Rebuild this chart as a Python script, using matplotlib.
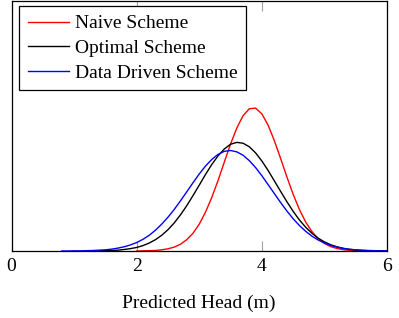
import numpy as np
import matplotlib
matplotlib.use("Agg")
import matplotlib.pyplot as plt

plt.rcParams['font.family'] = ['Liberation Serif', 'DejaVu Serif']
plt.rcParams['mathtext.fontset'] = 'stix'

# Naive scheme (x = 2.0 .. 5.7, step 0.1)
naive_x = np.round(np.arange(2.0, 5.75, 0.1), 2)
naive_y = [0.000, 0.001, 0.002, 0.003, 0.007, 0.013, 0.023, 0.040, 0.067, 0.105,
           0.159, 0.230, 0.317, 0.417, 0.526, 0.633, 0.728, 0.801, 0.842, 0.846,
           0.812, 0.745, 0.653, 0.548, 0.439, 0.336, 0.246, 0.172, 0.115, 0.073,
           0.045, 0.026, 0.015, 0.008, 0.004, 0.002, 0.001, 0.000]

# Optimal scheme (x = 1.2 .. 6.0, step 0.1)
optimal_x = np.round(np.arange(1.2, 6.05, 0.1), 2)
optimal_y = [0.000, 0.001, 0.001, 0.002, 0.003, 0.005, 0.009, 0.014, 0.021, 0.032,
             0.047, 0.067, 0.093, 0.126, 0.166, 0.214, 0.268, 0.328, 0.390, 0.453,
             0.512, 0.563, 0.604, 0.632, 0.643, 0.638, 0.617, 0.581, 0.533, 0.477,
             0.415, 0.353, 0.292, 0.235, 0.184, 0.141, 0.105, 0.076, 0.054, 0.037,
             0.025, 0.016, 0.010, 0.006, 0.004, 0.002, 0.001, 0.001, 0.000]

# Data driven scheme (x = 0.8 .. 6.0, step 0.1)
driven_x = np.round(np.arange(0.8, 6.05, 0.1), 2)
driven_y = [0.000, 0.000, 0.001, 0.001, 0.002, 0.003, 0.005, 0.007, 0.011, 0.017,
            0.025, 0.036, 0.050, 0.069, 0.093, 0.123, 0.159, 0.200, 0.246, 0.297,
            0.350, 0.404, 0.456, 0.503, 0.542, 0.572, 0.590, 0.595, 0.587, 0.567,
            0.535, 0.494, 0.446, 0.393, 0.340, 0.287, 0.237, 0.191, 0.151, 0.117,
            0.088, 0.065, 0.047, 0.033, 0.023, 0.015, 0.010, 0.007, 0.004, 0.003,
            0.002, 0.001, 0.001]

labels = ["Naive Scheme", "Optimal Scheme", "Data Driven Scheme"]
colors = ["#ff0000", "#000000", "#0000ff"]
xticks = [0, 2, 4, 6]
xlabel = "Predicted Head (m)"

fig = plt.figure(figsize=(3.99, 3.18), dpi=100)
ax = fig.add_axes([11.5/399, 67/318, 375.5/399, 250/318])

for xs, ys, lab, c in zip([naive_x, optimal_x, driven_x],
                          [naive_y, optimal_y, driven_y], labels, colors):
    ax.plot(xs, ys, color=c, lw=1.0, label=lab, solid_joinstyle='round')

ax.set_xlim(0, 6)
ax.set_ylim(0, 1.48)
ax.set_xticks(xticks)
ax.set_xticklabels([str(t) for t in xticks])
ax.set_yticks([])
ax.tick_params(axis='x', direction='in', length=7, width=0.8, color='#a0a0a0',
               top=True, labelsize=14, pad=5)
for s in ax.spines.values():
    s.set_linewidth(0.9)
    s.set_color('black')
ax.set_xlabel(xlabel, fontsize=14, labelpad=14)

leg = ax.legend(loc='upper left', bbox_to_anchor=(0.0208, 0.98), borderaxespad=0,
                fontsize=14, handlelength=2.1, handletextpad=0.3, borderpad=0.45,
                labelspacing=0.36, fancybox=False, framealpha=1, edgecolor='black')
leg.get_frame().set_linewidth(0.9)

fig.savefig("out.png", dpi=100)
